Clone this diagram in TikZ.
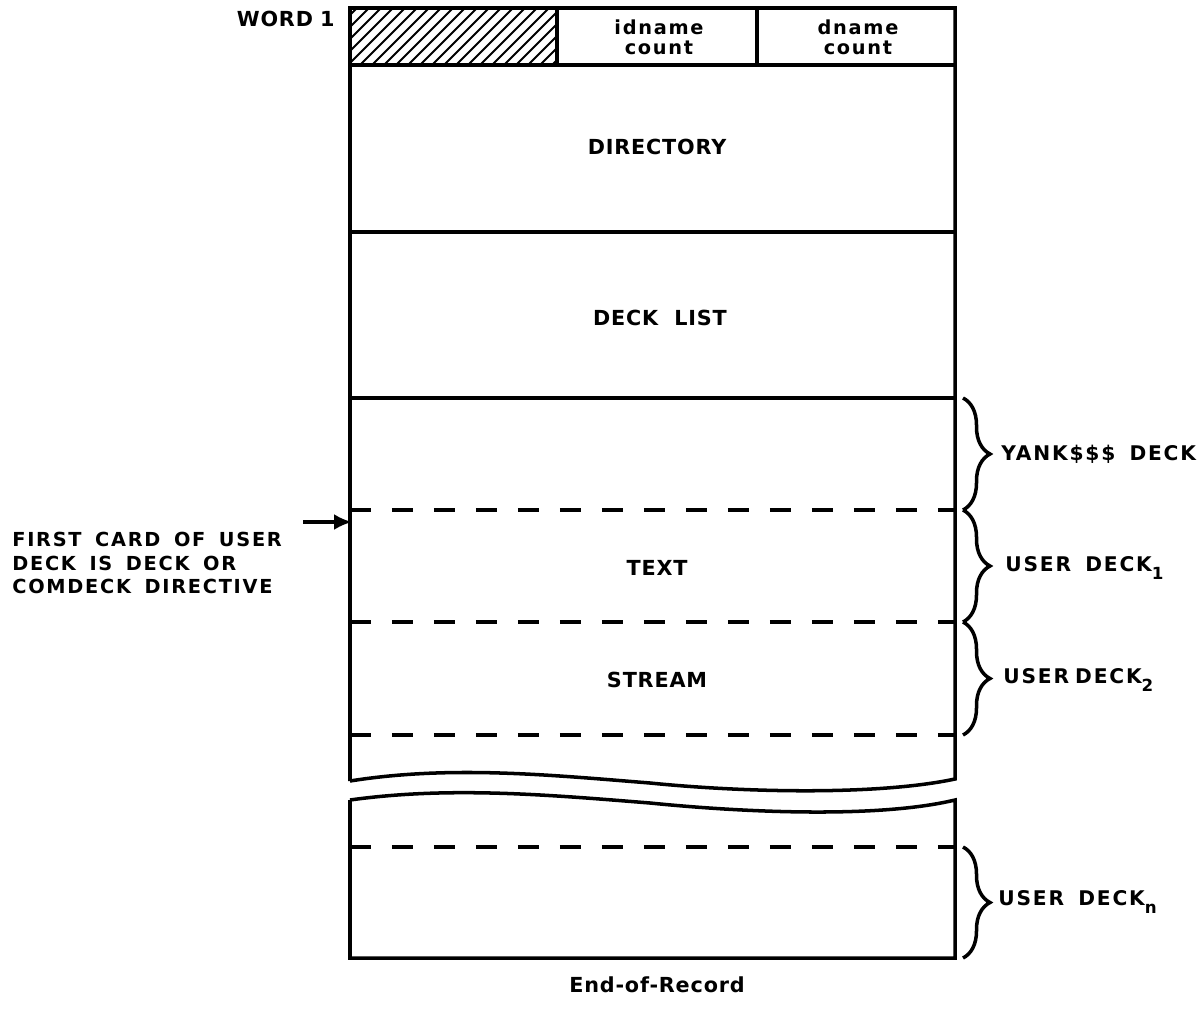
\documentclass[tikz,border=0pt]{standalone}
\usepackage{fontspec}
\setsansfont{DejaVu Sans}
\newfontfamily\leroy[LetterSpace=9, WordSpace=1.6]{DejaVu Sans Bold}
\newfontfamily\leroybox[LetterSpace=4, WordSpace=2]{DejaVu Sans Bold}
\usetikzlibrary{arrows.meta,positioning,decorations.pathreplacing}
\newcommand\decksub[1]{\raisebox{-0.7ex}{\fontsize{9.5}{9.5}\selectfont #1}}
\tikzset{
  cardline/.style = {line width=2pt},
  carddash/.style = {line width=2pt, dash pattern=on 0.42cm off 0.42cm},
  hatchline/.style = {line width=1.2pt},
  deckbrace/.style = {line width=2pt, decorate, decoration={brace, amplitude=0.54cm}},
  decklabel/.style = {anchor=west, inner sep=0pt, font=\leroy\fontsize{11.5}{13}\selectfont},
  boxlabel/.style = {inner sep=0pt, font=\leroybox\fontsize{11.8}{13}\selectfont},
  fieldlabel/.style = {inner sep=0pt, align=center, font=\leroy\fontsize{11}{11.4}\selectfont},
  pointer/.style = {line width=1.8pt, -{Latex[length=0.36cm,width=0.32cm]}},
}

\begin{document}
\begin{tikzpicture}[x=0.02cm, y=-0.02cm]
  \useasboundingbox (0,0) rectangle (1200,1014);

  % word 1, hatched field
  \begin{scope}
    \clip (350,8) rectangle (557,65);
    \foreach \i in {300,312,...,560}
      \draw[hatchline] (\i,65) -- ++(57,-57);
  \end{scope}
  \draw[cardline] (557,8) -- (557,65);
  \draw[cardline] (757,8) -- (757,65);
  \node[fieldlabel] (idname) at (659,37) {idname\\count};
  \node[fieldlabel] (dname) at (858,37) {dname\\count};
  \node[boxlabel, anchor=east] (word) at (335,19) {WORD\hspace{0.35em}1};

  % upper part of the record
  \draw[cardline] (350,781) -- (350,8) -- (955,8) -- (955,779)
    .. controls (880,795) and (750,793) .. (650,783)
    .. controls (550,775) and (450,765) .. (350,781);
  \draw[cardline] (350,65) -- (955,65);
  \draw[cardline] (350,232) -- (955,232);
  \draw[cardline] (350,398) -- (955,398);
  \foreach \y in {510,622,735}
    \draw[carddash] (350,\y) -- (955,\y);

  % lower part of the record
  \draw[cardline] (350,800) -- (350,958) -- (955,958) -- (955,800)
    .. controls (880,818) and (750,813) .. (650,803)
    .. controls (550,795) and (450,786) .. (350,800);
  \draw[carddash] (350,847) -- (955,847);

  \node[boxlabel] (directory) at (657,147) {DIRECTORY};
  \node[boxlabel] (decklist) at (660,318) {DECK LIST};
  \node[boxlabel] (text) at (657,568) {TEXT};
  \node[boxlabel] (stream) at (657,680) {STREAM};
  \node[boxlabel] (eor) at (657,985) {End-of-Record};

  % decks
  \draw[deckbrace] (963,398) -- (963,510);
  \draw[deckbrace] (963,510) -- (963,622);
  \draw[deckbrace] (963,622) -- (963,735);
  \draw[deckbrace] (963,847) -- (963,958);
  \node[decklabel] (yank) at (1001,454) {YANK\$\$\$ DECK};
  \node[decklabel] (user1) at (1005,568) {USER DECK\decksub{1}};
  \node[decklabel] (user2) at (1003,680) {USER\hspace{0.3em}DECK\decksub{2}};
  \node[decklabel] (usern) at (998,902) {USER DECK\decksub{n}};

  % first card note
  \node[decklabel, anchor=north west, align=left, font=\leroy\fontsize{11}{13.4}\selectfont]
    (note) at (12,532) {FIRST CARD OF USER\\DECK IS DECK OR\\COMDECK DIRECTIVE};
  \coordinate (tail) at (303,522);
  \coordinate (tip) at (352,522);
  \draw[pointer] (tail) -- (tip);
\end{tikzpicture}
\end{document}
